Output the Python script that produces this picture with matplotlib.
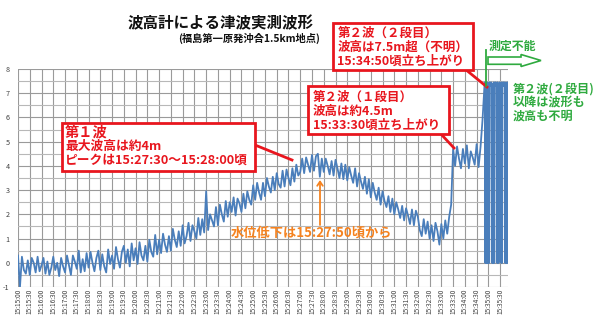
import numpy as np
import matplotlib
matplotlib.use("Agg")
import matplotlib.pyplot as plt
from matplotlib.patches import Rectangle, Polygon, FancyArrowPatch
from matplotlib.lines import Line2D

plt.rcParams['font.family'] = ['Noto Sans CJK JP', 'DejaVu Sans']

# ---------------- data (water level in m) ----------------
# main record: one reading every 5 s from 15:15:00
wave_1515_1520 = [
    0.3, -1.0, 0.25, -0.3, -0.45, 0.1, -0.5, 0.2, 0.0, -0.4, 0.25, -0.35,
    -0.1, 0.2, -0.45, 0.05, -0.5, -0.2, 0.25, -0.3, 0.0, -0.55, 0.2, -0.15,
    -0.4, 0.3, -0.1, -0.5, 0.3, 0.05, -0.25, 0.5, -0.4, 0.15, -0.35, 0.4,
    -0.2, 0.45, 0.0, -0.35, 0.2, 0.5, -0.3, 0.35, -0.15, -0.4, 0.55, -0.05,
    0.3, -0.25, 0.65, 0.15, -0.2, 0.45, 0.7, 0.0, 0.55, -0.15, 0.8, 0.1,
]
wave_1520_1525 = [
    0.6, -0.05, 0.85, 0.3, 0.1, 0.7, 0.05, 0.95, 0.45, 0.25, 1.15, 0.35,
    0.95, 0.4, 1.2, 0.75, 0.45, 1.1, 0.5, 1.4, 0.95, 0.65, 1.3, 0.7,
    1.55, 0.8, 1.1, 1.65, 0.9, 1.55, 1.3, 1.0, 1.85, 1.15, 1.8, 1.25,
    2.95, 1.35, 2.0, 1.75, 1.5, 2.3, 1.55, 2.4, 2.0, 1.7, 2.55, 1.9,
    2.5, 2.1, 2.7, 1.95, 2.65, 2.45, 2.1, 2.85, 2.25, 2.95, 2.6, 2.4,
]
wave_1525_1530 = [
    3.2, 2.6, 3.3, 2.9, 2.6, 3.3, 2.75, 3.5, 3.15, 2.9, 3.55, 3.0,
    3.7, 3.25, 3.1, 3.8, 3.15, 3.85, 3.5, 3.2, 3.9, 3.35, 4.05, 3.6,
    3.75, 4.3, 3.7, 4.35, 4.05, 3.75, 4.45, 3.8, 4.4, 4.5, 3.55, 4.3,
    3.75, 4.3, 4.0, 3.65, 4.2, 3.6, 4.25, 3.9, 3.5, 4.1, 3.45, 4.05,
    3.4, 3.95, 3.6, 3.3, 3.9, 3.15, 3.7, 3.35, 3.05, 3.55, 2.85, 3.45,
]
wave_1530_1535 = [
    2.7, 3.3, 2.9, 2.6, 3.1, 2.4, 2.95, 2.55, 2.3, 2.75, 2.1, 2.65,
    2.0, 2.5, 2.2, 1.85, 2.35, 1.75, 2.25, 1.95, 1.6, 2.2, 1.55, 2.15,
    1.9, 1.35, 1.1, 1.8, 1.2, 1.7, 1.0, 1.55, 0.9, 1.65, 1.3, 0.75,
    1.6, 1.0, 1.75, 1.2, 1.9, 2.4, 4.7, 4.0, 4.8, 4.3, 3.9, 4.7,
    4.1, 4.85, 3.9, 4.6, 4.35, 4.05, 4.9, 3.95, 4.8, 5.9,
]
# last part (15:34:50 - 15:35:50): one reading every second, gauge saturating
tail_seconds = list(range(1190, 1251))
tail_values = [
    7.3, 7.45, 0.0, 7.4, 0.0, 7.35, 0.0, 7.45, 0.0, 7.3, 0.0, 7.4, 0.0,
    7.45, 7.3, 7.4, 7.35, 7.45, 7.3,
    0.0, 7.4, 0.0, 7.35, 0.0, 7.45, 0.0,
    7.3, 7.4, 7.45, 7.3, 7.35, 7.4,
    0.0, 7.45, 0.0, 7.3, 0.0,
    7.4, 7.35, 7.45, 7.3, 7.4, 7.35,
    0.0, 7.45, 0.0, 7.3,
    7.4, 7.45, 7.3, 7.4, 7.35, 7.45,
    0.0, 7.4, 0.0, 7.3, 0.0, 7.45, 0.0, 7.4,
]

main_values = wave_1515_1520 + wave_1520_1525 + wave_1525_1530 + wave_1530_1535
main_seconds = list(np.arange(len(main_values)) * 5)
seconds = main_seconds + tail_seconds
values = main_values + tail_values

tick_seconds = list(range(0, 1231, 30))
tick_labels = [f"15:{15 + s // 60:02d}:{s % 60:02d}" for s in tick_seconds]
y_ticks = list(range(-1, 9))

# ---------------- figure ----------------
W, H = 600, 322
fig = plt.figure(figsize=(W / 100, H / 100), dpi=100)
fig.patch.set_facecolor('white')

def fx(x):
    return x / W

def fy(y):
    return 1 - y / H

ax = fig.add_axes([fx(18), fy(287), 490 / W, (287 - 69) / H])
ax.plot(seconds, values, color='#4a7ebb', lw=1.3, zorder=3)
ax.set_xlim(0, 1250)
ax.set_ylim(-1, 8)
ax.set_xticks(tick_seconds)
ax.set_xticklabels(tick_labels, rotation=90, fontsize=4.7, color='#404040')
ax.set_yticks(y_ticks)
ax.set_yticklabels([str(v) for v in y_ticks], fontsize=5.2, color='#404040')
ax.set_yticks(np.arange(-0.5, 8, 1.0), minor=True)
ax.tick_params(axis='both', which='both', length=0)
ax.tick_params(axis='x', pad=1.5)
ax.tick_params(axis='y', pad=6)
ax.grid(which='major', color='#9a9a9a', lw=0.8)
ax.grid(which='minor', axis='y', color='#b8b8b8', lw=0.8)
ax.set_axisbelow(True)
for s in ax.spines.values():
    s.set_visible(False)

# ---------------- titles ----------------
fig.text(fx(221), fy(23), '波高計による津波実測波形', fontsize=11.2, fontweight='bold',
         ha='center', va='center', color='#111111')
fig.text(fx(320), fy(38.5), '(福島第一原発沖合1.5km地点)', fontsize=7.4, fontweight='bold',
         ha='right', va='center', color='#111111')

RED = '#e8161e'
GREEN = '#2faa3f'
ORANGE = '#f5821f'

def box(x0, y0, x1, y1):
    fig.add_artist(Rectangle((fx(x0), fy(y1)), fx(x1) - fx(x0), fy(y0) - fy(y1),
                             transform=fig.transFigure, facecolor='white',
                             edgecolor=RED, lw=2.0, zorder=5))

def line(x0, y0, x1, y1, color, lw=2.0):
    fig.add_artist(Line2D([fx(x0), fx(x1)], [fy(y0), fy(y1)], transform=fig.transFigure,
                          color=color, lw=lw, zorder=5))

def txt(x, y, s, color, size, ha='left'):
    fig.text(fx(x), fy(y), s, color=color, fontsize=size, fontweight='bold',
             ha=ha, va='center', zorder=6)

# box: first wave
line(255, 145, 292, 160, RED)
box(62, 123, 255, 171)
txt(65, 132.5, '第１波', RED, 10.3)
txt(65, 146, '最大波高は約4m', RED, 9.2)
txt(65, 160, 'ピークは15:27:30～15:28:00頃', RED, 9.2)

# box: second wave step 1
line(440, 133, 454, 148, RED)
box(308, 86, 449, 134)
txt(313, 97, '第２波（１段目）', RED, 9.0)
txt(313, 111, '波高は約4.5m', RED, 9.0)
txt(313, 125, '15:33:30頃立ち上がり', RED, 9.0)

# box: second wave step 2
line(465, 69, 487, 87, RED)
box(333, 23, 473, 70)
txt(337.5, 33.5, '第２波（２段目）', RED, 9.0)
txt(337.5, 47.5, '波高は7.5m超（不明）', RED, 9.0)
txt(337.5, 61.5, '15:34:50頃立ち上がり', RED, 9.0)

# green: measurement impossible
line(486, 50, 486, 86, GREEN, lw=1.3)
txt(489, 46.5, '測定不能', GREEN, 8.6)
arrow_pts = [(488, 57), (521, 57), (521, 54.5), (541, 60.5), (521, 66.5), (521, 64.3), (488, 64.3)]
fig.add_artist(Polygon([(fx(a), fy(b)) for a, b in arrow_pts], closed=True,
                       transform=fig.transFigure, facecolor='white', edgecolor=GREEN,
                       lw=1.2, zorder=5))
txt(513, 89, '第２波(２段目)', GREEN, 8.7)
txt(513, 102.5, '以降は波形も', GREEN, 8.7)
txt(513, 116, '波高も不明', GREEN, 8.7)

# orange: water level drop
fig.add_artist(FancyArrowPatch((fx(320), fy(225)), (fx(320), fy(180)),
                               transform=fig.transFigure, arrowstyle='->,head_length=3,head_width=2',
                               color=ORANGE, lw=1.3, zorder=5, shrinkA=0, shrinkB=0))
txt(311, 233, '水位低下は15:27:50頃から', ORANGE, 9.5, ha='center')

fig.savefig('out.png', dpi=100, facecolor='white')
